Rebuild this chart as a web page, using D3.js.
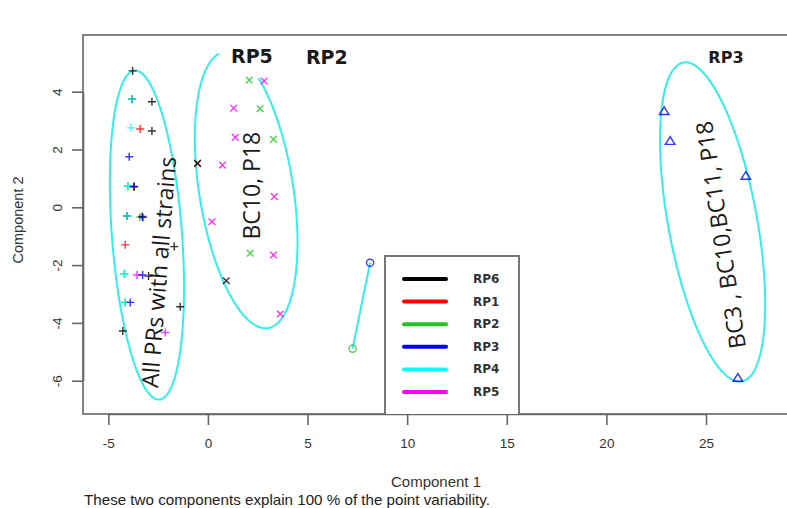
<!DOCTYPE html>
<html>
<head>
<meta charset="utf-8">
<script src="https://cdn.jsdelivr.net/npm/d3@7"></script>
<style>
  body { margin: 0; background: #fff; }
</style>
</head>
<body>
<svg width="787" height="508"></svg>
<script>
// strain groups and their colours (legend order)
const groups = ["RP6", "RP1", "RP2", "RP3", "RP4", "RP5"];
const groupColors = ["#000000", "#ff0000", "#22c322", "#0000ff", "#00ffff", "#ff00ff"];

// cluster 1, drawn with "+"  [component1, component2, group]
const plusPoints = [
  [-3.78, 4.72, "RP6"],
  [-3.81, 3.74, "RP6"], [-3.81, 3.74, "RP4"],
  [-2.81, 3.65, "RP6"],
  [-3.86, 2.75, "RP4"],
  [-3.40, 2.71, "RP1"],
  [-2.81, 2.64, "RP6"],
  [-3.95, 1.75, "RP3"],
  [-4.02, 0.73, "RP2"], [-4.02, 0.73, "RP4"],
  [-3.70, 0.72, "RP6"], [-3.73, 0.71, "RP3"],
  [-4.06, -0.30, "RP6"], [-4.06, -0.30, "RP4"],
  [-3.42, -0.34, "RP2"], [-3.30, -0.32, "RP6"], [-3.26, -0.35, "RP3"],
  [-4.15, -1.30, "RP1"],
  [-1.69, -1.36, "RP6"],
  [-4.20, -2.30, "RP2"], [-4.20, -2.30, "RP4"],
  [-3.56, -2.34, "RP5"],
  [-2.98, -2.38, "RP6"], [-3.28, -2.34, "RP3"],
  [-4.15, -3.29, "RP2"], [-4.15, -3.29, "RP4"],
  [-3.90, -3.29, "RP3"],
  [-1.39, -3.44, "RP6"],
  [-4.27, -4.28, "RP6"],
  [-2.14, -4.33, "RP5"]
];

// cluster 2, drawn with "x"
const crossPoints = [
  [2.07, 4.40, "RP2"],
  [2.82, 4.37, "RP5"],
  [1.29, 3.43, "RP5"],
  [2.62, 3.41, "RP2"],
  [1.37, 2.42, "RP5"],
  [3.29, 2.35, "RP2"],
  [-0.52, 1.52, "RP1"], [-0.52, 1.52, "RP6"],
  [0.73, 1.46, "RP5"],
  [3.33, 0.37, "RP5"],
  [0.20, -0.50, "RP5"],
  [2.12, -1.59, "RP2"],
  [3.29, -1.65, "RP5"],
  [0.92, -2.54, "RP6"],
  [3.63, -3.69, "RP5"]
];

// cluster 4, drawn with circles (two points joined by a segment)
const circlePoints = [
  [8.14, -1.92, "RP3"],
  [7.26, -4.89, "RP2"]
];

// cluster 3, drawn with triangles
const trianglePoints = [
  [22.9, 3.33, "RP3"],
  [23.2, 2.30, "RP3"],
  [27.0, 1.09, "RP3"],
  [26.6, -5.90, "RP3"]
];

// cluster ellipses: centre, half axes (data units), tilt (deg), drawn arc (deg)
const ellipses = [
  { cx: -3.06, cy: -0.96, rx: 1.76, ry: 5.71, tilt: -4.3, arc: [0, 360] },
  { cx: 1.92, cy: 0.60, rx: 2.36, ry: 4.84, tilt: -9, arc: [-51, 263] },
  { cx: 25.33, cy: -0.51, rx: 2.23, ry: 5.61, tilt: -10.4, arc: [0, 360] }
];

// annotations inside the plot
const notes = [
  { text: "All PRs with all strains", x: -2.5, y: -2.24, rot: -85.5, cls: "big" },
  { text: "BC10, P18", x: 2.17, y: 0.75, rot: -90, cls: "big" },
  { text: "BC3 , BC10,BC11, P18", x: 25.7, y: -0.96, rot: -98.6, cls: "big" },
  { text: "RP5", x: 2.21, y: 5.24, rot: 0, cls: "rp" },
  { text: "RP2", x: 5.97, y: 5.20, rot: 0, cls: "rp" },
  { text: "RP3", x: 26.0, y: 5.20, rot: 0, cls: "rp small" }
];

const xTicks = [-5, 0, 5, 10, 15, 20, 25];
const yTicks = [-6, -4, -2, 0, 2, 4];

const color = d3.scaleOrdinal().domain(groups).range(groupColors);

const box = { left: 83, top: 35, right: 792, bottom: 414 };
const x = d3.scaleLinear().domain([-5, 25]).range([108.3, 706]);
const y = d3.scaleLinear().domain([-6, 4]).range([380.7, 91.7]);

const svg = d3.select("svg");
const axisFont = "'Liberation Sans', Arial, sans-serif";

// plot frame
svg.append("rect")
    .attr("x", box.left).attr("y", box.top)
    .attr("width", box.right - box.left).attr("height", box.bottom - box.top)
    .attr("fill", "none").attr("stroke", "#666").attr("stroke-width", 1.6);

// axes
const gx = svg.append("g")
    .attr("transform", `translate(0,${box.bottom})`)
    .call(d3.axisBottom(x).tickValues(xTicks).tickSize(11).tickSizeOuter(0).tickPadding(13).tickFormat(d => String(d)));
const gy = svg.append("g")
    .attr("transform", `translate(${box.left},0)`)
    .call(d3.axisLeft(y).tickValues(yTicks).tickSize(11).tickSizeOuter(0).tickFormat(d => String(d)));

[gx, gy].forEach(g => {
  g.select(".domain").attr("stroke", "#666").attr("stroke-width", 1.6);
  g.selectAll(".tick line").attr("stroke", "#666").attr("stroke-width", 1.6);
  g.selectAll(".tick text").attr("fill", "#333")
      .style("font-family", axisFont).style("font-size", "13.5px");
});
gy.selectAll(".tick text")
    .attr("x", null).attr("dy", null)
    .attr("text-anchor", "middle")
    .attr("dominant-baseline", "central")
    .attr("transform", "translate(-26,0) rotate(-90)");

// axis titles and footnote
svg.append("text")
    .attr("x", 436).attr("y", 487)
    .attr("text-anchor", "middle").attr("fill", "#333")
    .style("font-family", axisFont).style("font-size", "15px")
    .text("Component 1");
svg.append("text")
    .attr("transform", "translate(23,220) rotate(-90)")
    .attr("text-anchor", "middle").attr("fill", "#333")
    .style("font-family", axisFont).style("font-size", "14.5px")
    .text("Component 2");
svg.append("text")
    .attr("x", 84).attr("y", 505)
    .attr("fill", "#222")
    .attr("textLength", 406)
    .attr("lengthAdjust", "spacingAndGlyphs")
    .style("font-family", axisFont).style("font-size", "14.5px")
    .text("These two components explain 100 % of the point variability.");

// ellipses
const kx = x(1) - x(0), ky = y(0) - y(1);
const plot = svg.append("g");
plot.selectAll("path.ell")
  .data(ellipses)
  .join("path")
    .attr("class", "ell")
    .attr("fill", "none")
    .attr("stroke", "#33eeee")
    .attr("stroke-width", 2)
    .attr("transform", d => `translate(${x(d.cx)},${y(d.cy)}) rotate(${d.tilt})`)
    .attr("d", d => {
      const steps = d3.range(d.arc[0], d.arc[1] + 0.1, 2).map(a => a * Math.PI / 180);
      return d3.line()(steps.map(t => [d.rx * kx * Math.cos(t), d.ry * ky * Math.sin(t)]));
    });

// segment for the two-point cluster
plot.append("line")
    .attr("x1", x(circlePoints[0][0])).attr("y1", y(circlePoints[0][1]))
    .attr("x2", x(circlePoints[1][0])).attr("y2", y(circlePoints[1][1]))
    .attr("stroke", "#33eeee").attr("stroke-width", 2);

// markers
const shapes = {
  plus: "M-4,0H4M0,-4V4",
  cross: "M-3.3,-3.3L3.3,3.3M-3.3,3.3L3.3,-3.3",
  triangle: "M0,-4.3L4.8,3.5L-4.8,3.5Z"
};
function drawMarks(data, shape) {
  const g = plot.append("g").attr("fill", "none").attr("stroke-width", 1.4);
  const sel = g.selectAll("*").data(data);
  if (shape === "circle") {
    sel.join("circle")
        .attr("cx", d => x(d[0])).attr("cy", d => y(d[1]))
        .attr("r", 3.6)
        .attr("stroke", d => color(d[2]))
        .attr("stroke-opacity", 0.75);
  } else {
    sel.join("path")
        .attr("transform", d => `translate(${x(d[0])},${y(d[1])})`)
        .attr("d", shapes[shape])
        .attr("stroke", d => color(d[2]))
        .attr("stroke-opacity", 0.8);
  }
}
drawMarks(plusPoints, "plus");
drawMarks(crossPoints, "cross");
drawMarks(circlePoints, "circle");
drawMarks(trianglePoints, "triangle");

// annotations
plot.selectAll("text.note")
  .data(notes)
  .join("text")
    .attr("class", "note")
    .attr("transform", d => `translate(${x(d.x)},${y(d.y)}) rotate(${d.rot})`)
    .attr("text-anchor", "middle")
    .attr("dominant-baseline", "central")
    .attr("fill", "#1a1a1a")
    .style("font-family", d => d.cls === "big" ? "'Open Sans', 'Noto Sans', sans-serif" : "'DejaVu Sans', sans-serif")
    .style("font-weight", d => d.cls === "big" ? 400 : 700)
    .style("font-size", d => d.cls === "big" ? "23px" : d.cls === "rp small" ? "16px" : "19px")
    .text(d => d.text);

// legend
const legend = svg.append("g");
legend.append("path")
    .attr("d", `M385,${box.bottom}V256H519V${box.bottom}`)
    .attr("fill", "#fff").attr("stroke", "#777").attr("stroke-width", 2);
const rows = legend.selectAll("g.row")
  .data(groups)
  .join("g")
    .attr("class", "row")
    .attr("transform", (d, i) => `translate(0,${279 + i * 22.6})`);
rows.append("line")
    .attr("x1", 404).attr("x2", 446)
    .attr("stroke", d => color(d))
    .attr("stroke-width", 4)
    .attr("stroke-linecap", "round");
rows.append("text")
    .attr("x", 473)
    .attr("dominant-baseline", "central")
    .attr("fill", "#333")
    .style("font-family", "'DejaVu Sans', sans-serif")
    .style("font-weight", 700)
    .style("font-size", "12px")
    .text(d => d);
</script>
</body>
</html>
